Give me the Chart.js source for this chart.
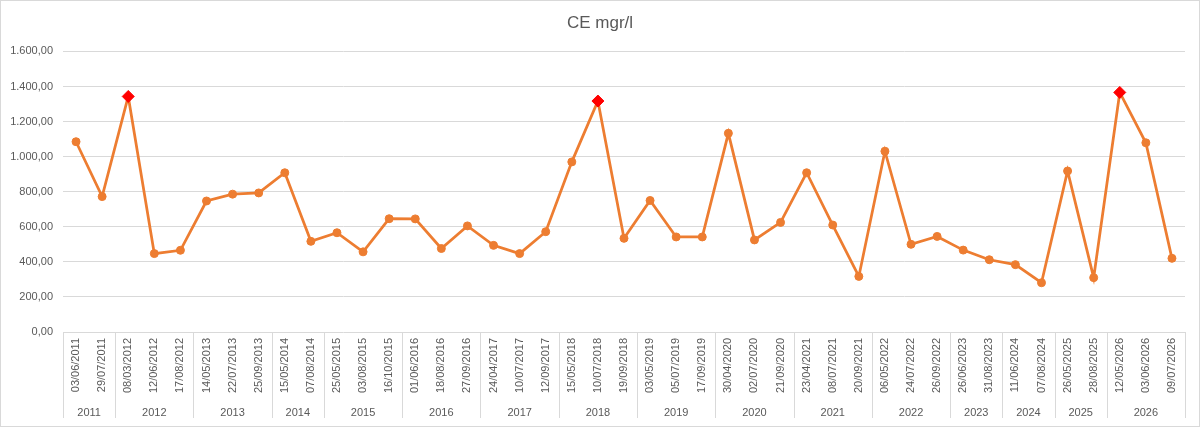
<!DOCTYPE html>
<html>
<head>
<meta charset="utf-8">
<script src="https://cdn.jsdelivr.net/npm/chart.js@4.4.1/dist/chart.umd.min.js"></script>
<style>
  html, body { margin: 0; padding: 0; background: #fff; }
  #wrap { width: 1200px; height: 427px; box-sizing: border-box; border: 1px solid #d9d9d9; position: relative; }
  canvas { display: block; }
</style>
</head>
<body>
<div id="wrap"><canvas id="c"></canvas></div>
<script>
const dates = [
  '03/06/2011','29/07/2011',
  '08/03/2012','12/06/2012','17/08/2012',
  '14/05/2013','22/07/2013','25/09/2013',
  '15/05/2014','07/08/2014',
  '25/05/2015','03/08/2015','16/10/2015',
  '01/06/2016','18/08/2016','27/09/2016',
  '24/04/2017','10/07/2017','12/09/2017',
  '15/05/2018','10/07/2018','19/09/2018',
  '03/05/2019','05/07/2019','17/09/2019',
  '30/04/2020','02/07/2020','21/09/2020',
  '23/04/2021','08/07/2021','20/09/2021',
  '06/05/2022','24/07/2022','26/09/2022',
  '26/06/2023','31/08/2023',
  '11/06/2024','07/08/2024',
  '26/05/2025','28/08/2025',
  '12/05/2026','03/06/2026','09/07/2026'
];
const years = ['2011','2012','2013','2014','2015','2016','2017','2018','2019','2020','2021','2022','2023','2024','2025','2026'];
const yearCounts = [2,3,3,2,3,3,3,3,3,3,3,3,2,2,2,3];
const values = [
  1085, 772,
  1343, 447, 466,
  747, 786, 793,
  908, 517,
  566, 457, 646,
  645, 476, 605,
  494, 447, 572,
  970, 1317, 534,
  750, 542, 542,
  1133, 525, 625,
  908, 610, 317,
  1031, 500, 545,
  467, 412,
  384, 281,
  918, 310,
  1366, 1079, 420
];
const highlightIdx = [2, 20, 40];
const yTicks = [0, 200, 400, 600, 800, 1000, 1200, 1400, 1600];
const chartTitle = 'CE mgr/l';

const ORANGE = '#ED7D31';
const RED = '#FF0000';
const TEXT = '#595959';
const GRID = '#d9d9d9';
const FONT = "'Liberation Sans', Arial, sans-serif";

function fmt(v) {
  const s = Math.round(v).toString().replace(/\B(?=(\d{3})+(?!\d))/g, '.');
  return s + ',00';
}

const groupPlugin = {
  id: 'groupPlugin',
  afterDraw(chart) {
    const x = chart.scales.x;
    const ctx = chart.ctx;
    const area = chart.chartArea;
    const step = x.getPixelForValue(1) - x.getPixelForValue(0);
    const top = area.bottom;
    const bottom = chart.height - 8;
    ctx.save();
    ctx.strokeStyle = GRID;
    ctx.lineWidth = 1;
    ctx.fillStyle = TEXT;
    ctx.font = '11px ' + FONT;
    ctx.textAlign = 'center';
    ctx.textBaseline = 'middle';
    let idx = 0;
    const edge = (i) => Math.round(x.getPixelForValue(i) - step / 2) + 0.5;
    ctx.beginPath();
    ctx.moveTo(edge(0), top); ctx.lineTo(edge(0), bottom);
    ctx.stroke();
    years.forEach((yr, g) => {
      const n = yearCounts[g];
      const l = x.getPixelForValue(idx) - step / 2;
      const r = x.getPixelForValue(idx + n - 1) + step / 2;
      ctx.fillText(yr, (l + r) / 2, chart.height - 13);
      const rx = Math.round(r) + 0.5;
      ctx.beginPath();
      ctx.moveTo(rx, top); ctx.lineTo(rx, bottom);
      ctx.stroke();
      idx += n;
    });
    ctx.restore();
  }
};

new Chart(document.getElementById('c'), {
  type: 'line',
  data: {
    labels: dates,
    datasets: [{
      data: values,
      yAxisID: 'y',
      borderColor: ORANGE,
      borderWidth: 2.75,
      tension: 0,
      pointStyle: (c) => highlightIdx.includes(c.dataIndex) ? 'rectRot' : 'circle',
      pointRadius: (c) => highlightIdx.includes(c.dataIndex) ? 6 : 4,
      pointBackgroundColor: (c) => highlightIdx.includes(c.dataIndex) ? RED : ORANGE,
      pointBorderColor: (c) => highlightIdx.includes(c.dataIndex) ? RED : ORANGE,
      pointBorderWidth: 1,
      pointHoverRadius: 5
    }]
  },
  options: {
    responsive: true,
    maintainAspectRatio: false,
    animation: false,
    layout: { padding: { left: 0, right: 0, top: 0, bottom: 0 } },
    plugins: {
      legend: { display: false },
      tooltip: { enabled: false },
      title: {
        display: true,
        text: chartTitle,
        color: TEXT,
        font: { family: FONT, size: 17, weight: 'normal' },
        padding: { top: 12, bottom: 18 }
      }
    },
    scales: {
      x: {
        type: 'category',
        offset: true,
        grid: { display: false, drawTicks: false },
        border: { display: false },
        ticks: {
          autoSkip: false,
          maxRotation: 90,
          minRotation: 90,
          padding: 6,
          color: TEXT,
          font: { family: FONT, size: 11 }
        },
        afterFit(scale) { scale.height = 94; }
      },
      y: {
        position: 'left',
        min: 0,
        max: 1600,
        afterBuildTicks(scale) { scale.ticks = yTicks.map(v => ({ value: v })); },
        grid: { color: GRID, drawTicks: false, lineWidth: 1 },
        border: { display: false },
        ticks: {
          padding: 10,
          color: TEXT,
          font: { family: FONT, size: 11 },
          callback: (v) => fmt(v)
        },
        afterFit(scale) { scale.width = 62; }
      },
      yR: {
        position: 'right',
        min: 0,
        max: 1600,
        grid: { display: false, drawTicks: false },
        border: { display: false },
        ticks: { display: false },
        afterFit(scale) { scale.width = 14; }
      }
    }
  },
  plugins: [groupPlugin]
});
</script>
</body>
</html>
